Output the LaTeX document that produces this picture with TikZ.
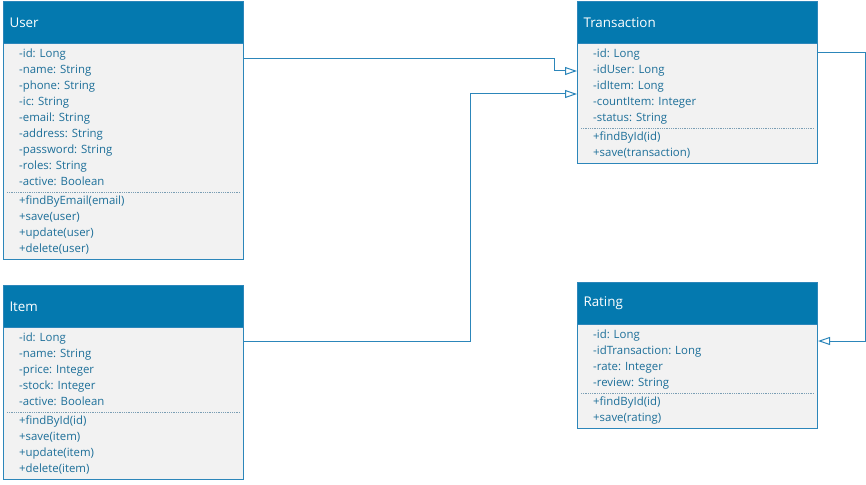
\documentclass[tikz,border=0pt]{standalone}
\usepackage{fontspec}
\setmainfont{Open Sans}
\usetikzlibrary{calc,arrows.meta}

\definecolor{umlhead}{HTML}{0479AF}
\definecolor{umlline}{HTML}{2C86BA}
\definecolor{umlfill}{HTML}{F2F2F2}
\definecolor{umltext}{HTML}{1D6F99}
\definecolor{umlsep}{HTML}{7A9EB4}

\tikzset{
  classbox/.style={draw=umlline, fill=umlfill, line width=1pt, anchor=north west,
    minimum width=240pt, inner sep=0pt},
  classhead/.style={draw=umlline, fill=umlhead, line width=1pt, anchor=north west,
    minimum width=240pt, minimum height=42pt, inner xsep=6pt, text width=228pt,
    align=left, text=white, font=\fontsize{13.4}{15}\selectfont},
  member/.style={anchor=west, inner xsep=0pt, inner ysep=0pt, text height=7.5pt,
    text depth=2.5pt, text=umltext, font=\fontsize{11.4}{13}\selectfont},
  sep/.style={draw=umlsep, densely dotted, line width=0.8pt},
  assoc/.style={draw=umlline, line width=1pt, -{Triangle[open,length=12pt,width=8pt]}}
}

\begin{document}
\begin{tikzpicture}[x=1pt,y=-1pt]
  \useasboundingbox (0,0) rectangle (866,484);

  % User
  \node[classbox, minimum height=258pt] (user) at (3,1) {};
  \node[classhead] (user-head) at (user.north west) {User};
  \foreach \txt [count=\i] in {-id: Long, -name: String, -phone: String, -ic: String,
      -email: String, -address: String, -password: String, -roles: String, -active: Boolean}
    \node[member] (user-a\i) at ($(user-head.south west)+(16,11+16*\i-16)$) {\txt};
  \draw[sep] ($(user-head.south west)+(4,148)$) -- ($(user-head.south east)+(-4,148)$);
  \foreach \txt [count=\i] in {+findByEmail(email), +save(user), +update(user), +delete(user)}
    \node[member] (user-m\i) at ($(user-head.south west)+(16,158+16*\i-16)$) {\txt};

  % Item
  \node[classbox, minimum height=194pt] (item) at (3,285) {};
  \node[classhead] (item-head) at (item.north west) {Item};
  \foreach \txt [count=\i] in {-id: Long, -name: String, -price: Integer, -stock: Integer,
      -active: Boolean}
    \node[member] (item-a\i) at ($(item-head.south west)+(16,11+16*\i-16)$) {\txt};
  \draw[sep] ($(item-head.south west)+(4,84)$) -- ($(item-head.south east)+(-4,84)$);
  \foreach \txt [count=\i] in {+findById(id), +save(item), +update(item), +delete(item)}
    \node[member] (item-m\i) at ($(item-head.south west)+(16,94+16*\i-16)$) {\txt};

  % Transaction
  \node[classbox, minimum height=162pt] (trans) at (577,1) {};
  \node[classhead] (trans-head) at (trans.north west) {Transaction};
  \foreach \txt [count=\i] in {-id: Long, -idUser: Long, -idItem: Long, -countItem: Integer,
      -status: String}
    \node[member] (trans-a\i) at ($(trans-head.south west)+(16,11+16*\i-16)$) {\txt};
  \draw[sep] ($(trans-head.south west)+(4,84)$) -- ($(trans-head.south east)+(-4,84)$);
  \foreach \txt [count=\i] in {+findById(id), +save(transaction)}
    \node[member] (trans-m\i) at ($(trans-head.south west)+(16,94+16*\i-16)$) {\txt};

  % Rating
  \node[classbox, minimum height=146pt] (rating) at (577,282) {};
  \node[classhead] (rating-head) at (rating.north west) {Rating};
  \foreach \txt [count=\i] in {-id: Long, -idTransaction: Long, -rate: Integer, -review: String}
    \node[member] (rating-a\i) at ($(rating-head.south west)+(16,11+16*\i-16)$) {\txt};
  \draw[sep] ($(rating-head.south west)+(4,68)$) -- ($(rating-head.south east)+(-4,68)$);
  \foreach \txt [count=\i] in {+findById(id), +save(rating)}
    \node[member] (rating-m\i) at ($(rating-head.south west)+(16,78+16*\i-16)$) {\txt};

  % associations
  \draw[assoc] ($(user.north east)+(0,58)$) -| ($(trans.north west)+(-23,70)$)
    -- ($(trans.north west)+(0,70)$);
  \draw[assoc] ($(item.north east)+(0,56)$) -| ($(trans.north west)+(-107,93)$)
    -- ($(trans.north west)+(0,93)$);
  \draw[assoc] ($(trans.north east)+(0,52)$) -- ++(47,0) |- ($(rating.north east)+(0,59)$);
\end{tikzpicture}
\end{document}
